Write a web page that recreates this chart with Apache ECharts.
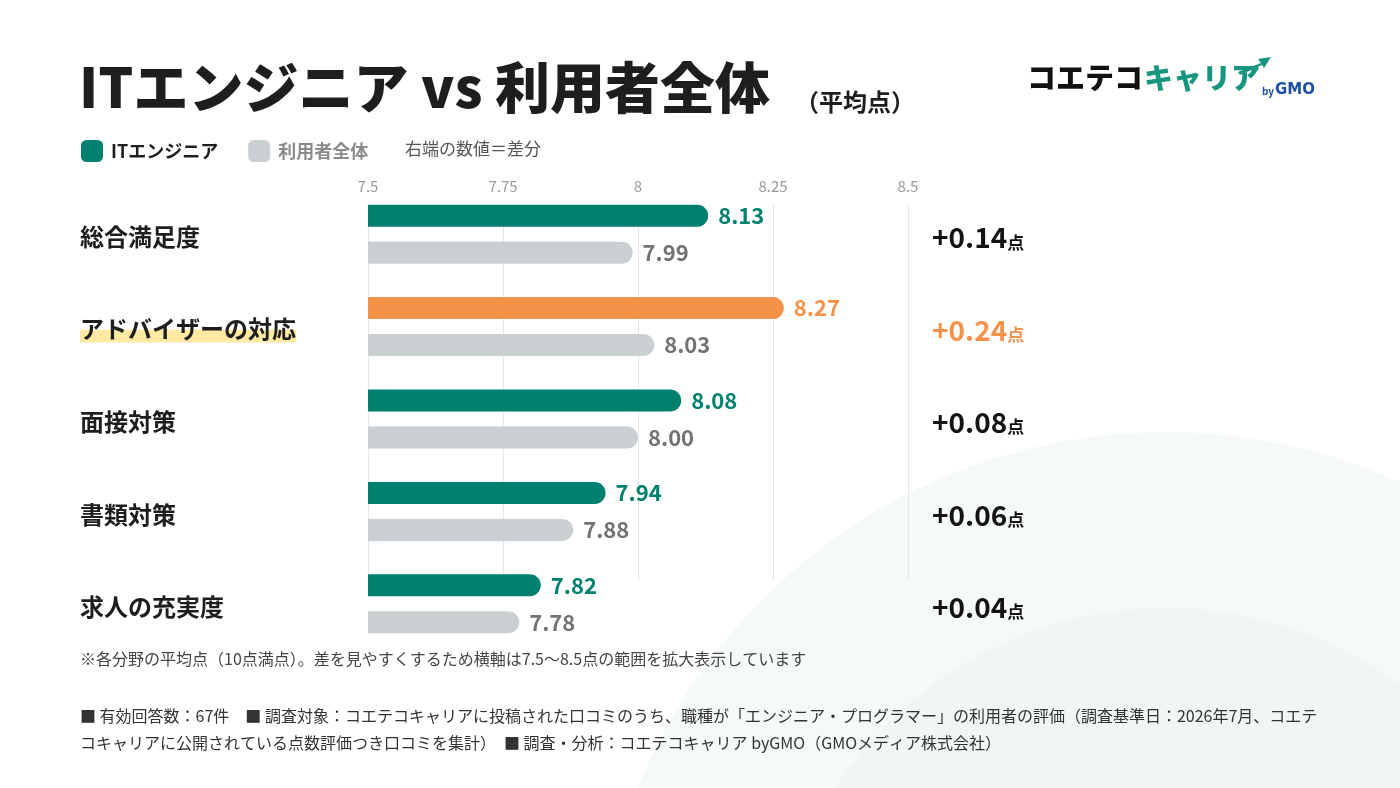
<!DOCTYPE html>
<html><head><meta charset="utf-8">
<script src="https://cdn.jsdelivr.net/npm/echarts@6/dist/echarts.min.js"></script>
<style>html,body{margin:0;padding:0;background:#fff}#c{width:1400px;height:788px}</style>
</head><body><div id="c"></div>
<script>
var categories = ['総合満足度', 'アドバイザーの対応', '面接対策', '書類対策', '求人の充実度'];
var itValues = [8.13, 8.27, 8.08, 7.94, 7.82];
var allValues = [7.99, 8.03, 8.00, 7.88, 7.78];
var axisTicks = [7.5, 7.75, 8, 8.25, 8.5];
var highlightIndex = 1;
var seriesNames = ['ITエンジニア', '利用者全体'];

var FONT = '"Noto Sans CJK JP", "Noto Sans", sans-serif';
var GREEN = '#00806E', GRAY = '#CACFD1', ORANGE = '#F5924A', GRAYTXT = '#737373', DARK = '#1E1E1E';

var hlCanvas = document.createElement('canvas');
hlCanvas.width = 10; hlCanvas.height = 40;
var hctx = hlCanvas.getContext('2d');
hctx.fillStyle = '#FFE9A3';
hctx.fillRect(0, 20, 10, 20);

var diffs = itValues.map(function (v, i) { return (v - allValues[i]).toFixed(2); });

var chart = echarts.init(document.getElementById('c'), null, {renderer: 'canvas'});
var option = {
  backgroundColor: '#ffffff',
  textStyle: {fontFamily: FONT},
  animation: false,
  legend: {
    left: 76, top: 135, itemWidth: 22, itemHeight: 22, itemGap: 30, icon: 'roundRect',
    textStyle: {fontSize: 18, fontWeight: 'bold', fontFamily: FONT, padding: [0, 0, 0, 3]},
    data: [{name: seriesNames[0], textStyle: {color: DARK}}, {name: seriesNames[1], textStyle: {color: '#8A8A8A'}}],
    selectedMode: false
  },
  graphic: [
    {type: 'circle', z: -10, silent: true, shape: {cx: 1166, cy: 1002, r: 570}, style: {fill: '#F5F9F9'}},
    {type: 'circle', z: -9, silent: true, shape: {cx: 1166, cy: 1002, r: 394}, style: {fill: '#EFF6F5'}},
    {type: 'text', left: 79, top: 60, style: {text: 'ITエンジニア vs 利用者全体', font: '900 55px ' + FONT, fill: DARK}},
    {type: 'text', left: 795, top: 90, style: {text: '（平均点）', font: 'bold 24px ' + FONT, fill: DARK}},
    {type: 'text', left: 405, top: 140, style: {text: '右端の数値＝差分', font: '17px ' + FONT, fill: '#555555'}},
    {type: 'text', left: 80, top: 651, style: {text: '※各分野の平均点（10点満点）。差を見やすくするため横軸は7.5〜8.5点の範囲を拡大表示しています', font: '16px ' + FONT, fill: '#444444'}},
    {type: 'text', left: 80, top: 708, style: {text: '■ 有効回答数：67件　■ 調査対象：コエテコキャリアに投稿された口コミのうち、職種が「エンジニア・プログラマー」の利用者の評価（調査基準日：2026年7月、コエテ', font: '16px ' + FONT, fill: '#333333'}},
    {type: 'text', left: 80, top: 735, style: {text: 'コキャリアに公開されている点数評価つき口コミを集計）　■ 調査・分析：コエテコキャリア byGMO（GMOメディア株式会社）', font: '16px ' + FONT, fill: '#333333'}},
    {type: 'text', left: 1027, top: 63, style: {text: 'コエテコ', font: '900 29px ' + FONT, fill: '#111111'}},
    {type: 'text', left: 1144, top: 63, style: {text: 'キャリア', font: '900 29px ' + FONT, fill: '#17967F'}},
    {type: 'polygon', shape: {points: [[1238, 72], [1261, 63], [1258, 59], [1271, 57], [1264, 68], [1262, 65], [1240, 75]]}, style: {fill: '#17967F'}},
    {type: 'text', left: 1262, top: 86, style: {text: 'by', font: 'bold 10px ' + FONT, fill: '#1E50A2'}},
    {type: 'text', left: 1275, top: 83, style: {text: 'GMO', font: '900 15px "DejaVu Sans", sans-serif', fill: '#1E50A2'}}
  ],
  grid: [
    {left: 368, width: 540, top: 205, height: 375},
    {left: 368, width: 540, top: 188, height: 462},
    {left: 920, width: 1, top: 188, height: 462}
  ],
  xAxis: [
    {gridIndex: 0, type: 'value', min: axisTicks[0], max: axisTicks[axisTicks.length - 1], interval: 0.25, position: 'top',
     axisLine: {show: false}, axisTick: {show: false},
     axisLabel: {color: '#9A9A9A', fontSize: 15, margin: 11, fontFamily: FONT, formatter: function (v) { return String(+v.toFixed(2)); }},
     splitLine: {show: true, lineStyle: {color: '#E2E9EA', width: 1}}},
    {gridIndex: 1, type: 'value', min: axisTicks[0], max: axisTicks[axisTicks.length - 1], show: false, splitLine: {show: false}},
    {gridIndex: 2, type: 'value', show: false}
  ],
  yAxis: [
    {gridIndex: 0, type: 'value', show: false},
    {gridIndex: 1, type: 'category', data: categories, inverse: true,
     axisLine: {show: false}, axisTick: {show: false}, splitLine: {show: false},
     axisLabel: {align: 'left', margin: 288, padding: [6, 0, 0, 0],
       formatter: function (v, i) { return i === highlightIndex ? '{hl|' + v + '}' : '{n|' + v + '}'; },
       rich: {
         n: {fontSize: 24, fontWeight: 'bold', color: DARK, fontFamily: FONT},
         hl: {fontSize: 24, fontWeight: 'bold', color: DARK, fontFamily: FONT, padding: [0, 0, 2, 0], backgroundColor: {image: hlCanvas}}
       }}},
    {gridIndex: 2, type: 'category', data: categories, inverse: true, position: 'right',
     axisLine: {show: false}, axisTick: {show: false}, splitLine: {show: false},
     axisLabel: {align: 'left', margin: 11, padding: [7, 0, 0, 0],
       formatter: function (v, i) {
         var s = i === highlightIndex ? 'o' : 'd';
         return '{' + s + '|+' + diffs[i] + '}{' + s + 'p|点}';
       },
       rich: {
         d: {fontSize: 28, fontWeight: 'bold', color: '#141414', fontFamily: FONT, verticalAlign: 'bottom'},
         dp: {fontSize: 17, fontWeight: 'bold', color: '#141414', fontFamily: FONT, verticalAlign: 'bottom', padding: [0, 0, 1, 0]},
         o: {fontSize: 28, fontWeight: 'bold', color: ORANGE, fontFamily: FONT, verticalAlign: 'bottom'},
         op: {fontSize: 17, fontWeight: 'bold', color: ORANGE, fontFamily: FONT, verticalAlign: 'bottom', padding: [0, 0, 1, 0]}
       }}}
  ],
  series: [
    {name: seriesNames[0], type: 'bar', xAxisIndex: 1, yAxisIndex: 1, barWidth: 22, barGap: '68%', z: 3,
     itemStyle: {color: GREEN, borderRadius: [0, 11, 11, 0]},
     label: {show: true, position: 'right', distance: 10, color: GREEN, fontSize: 22, fontWeight: 'bold', fontFamily: FONT,
       formatter: function (p) { return p.value.toFixed(2); }},
     data: itValues.map(function (v, i) {
       return i === highlightIndex ? {value: v, itemStyle: {color: ORANGE}, label: {color: ORANGE}} : v;
     })},
    {name: seriesNames[1], type: 'bar', xAxisIndex: 1, yAxisIndex: 1, barWidth: 22, z: 3,
     itemStyle: {color: GRAY, borderRadius: [0, 11, 11, 0]},
     label: {show: true, position: 'right', distance: 10, color: GRAYTXT, fontSize: 22, fontWeight: 'bold', fontFamily: FONT,
       formatter: function (p) { return p.value.toFixed(2); }},
     data: allValues}
  ]
};
chart.setOption(option);
</script>
</body></html>
